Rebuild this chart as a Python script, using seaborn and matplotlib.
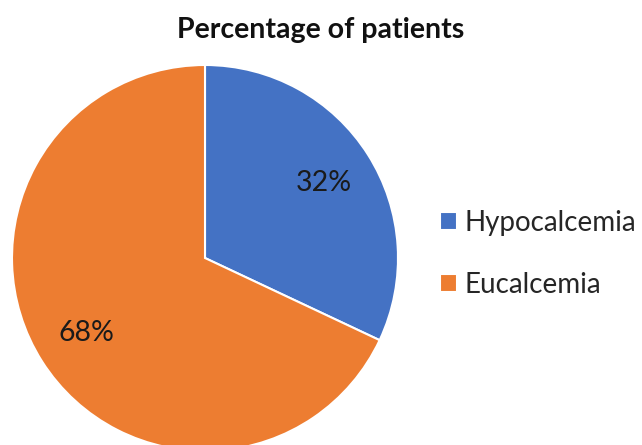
import seaborn as sns
import matplotlib
matplotlib.use("Agg")
import matplotlib.pyplot as plt

# data
labels = ["Hypocalcemia", "Eucalcemia"]
percent = [32, 68]
colors = ["#4472C4", "#ED7D31"]

sns.set_theme(style="white")
plt.rcParams["font.family"] = ["Lato", "DejaVu Sans"]

fig = plt.figure(figsize=(6.42, 4.45), dpi=100)
# pie radius 193 px, centre at (205, 258) from top-left
ax = fig.add_axes([12 / 642, -6 / 445, 386 / 642, 386 / 445])
wedges, texts, autotexts = ax.pie(
    percent, colors=sns.color_palette(colors), startangle=90, counterclock=False,
    autopct="%d%%", pctdistance=0.73,
    wedgeprops=dict(edgecolor="white", linewidth=1.5),
    textprops=dict(fontsize=20.5, color="#1a1a1a"),
)
ax.set_xlim(-1, 1)
ax.set_ylim(-1, 1)
ax.set_aspect("equal")
ax.axis("off")

fig.text(0.5, 1 - 30 / 445, "Percentage of patients", ha="center", va="center",
         fontsize=20.5, fontweight="bold", color="#111111")

fig.legend(wedges, labels, loc="center left", bbox_to_anchor=(440 / 642, 1 - 254 / 445),
           frameon=False, fontsize=20, handlelength=0.6, handleheight=0.6,
           handletextpad=0.28, labelspacing=1.3, borderpad=0, borderaxespad=0)

fig.savefig("out.png", dpi=100)
